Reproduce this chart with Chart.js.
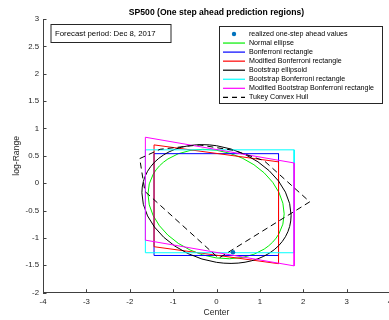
<!DOCTYPE html>
<html>
<head>
<meta charset="utf-8">
<script src="https://cdn.jsdelivr.net/npm/chart.js@4/dist/chart.umd.min.js"></script>
<style>
  html, body { margin: 0; padding: 0; background: #fff; overflow: hidden; }
  #wrap { width: 420px; height: 320px; }
</style>
</head>
<body>
<div id="wrap"><canvas id="regions" width="420" height="320"></canvas></div>
<script>
// axis ticks
const xTicks = [-4, -3, -2, -1, 0, 1, 2, 3, 4];
const yTicks = [-2, -1.5, -1, -0.5, 0, 0.5, 1, 1.5, 2, 2.5, 3];

// realized one-step ahead value (center, log-range)
const realizedCenter = [0.38];
const realizedLogRange = [-1.26];

// rectangles: [low, high] on each axis
const bonferroniCenter = [-1.44, 1.43];
const bonferroniRange = [-1.32, 0.54];
const bootBonferroniCenter = [-1.64, 1.79];
const bootBonferroniRange = [-1.27, 0.61];

// skewed rectangles, corners: top-left, top-right, bottom-right, bottom-left
const modBonferroniCenter = [-1.44, 1.43, 1.43, -1.44];
const modBonferroniRange = [0.70, 0.39, -1.47, -1.16];
const modBootBonferroniCenter = [-1.64, 1.79, 1.79, -1.64];
const modBootBonferroniRange = [0.84, 0.37, -1.51, -1.04];

// Tukey convex hull vertices
const tukeyCenter = [-1.77, -1.3, -0.4, 0.4, 1.1, 2.15, 0.05, -1.65];
const tukeyRange = [0.45, 0.62, 0.70, 0.60, 0.41, -0.34, -1.37, -0.15];

// ellipses: [center x, center y, half width, half height, correlation]
const normalEllipse = [-0.01, -0.38, 1.57, 1.00, -0.18];
const bootEllipsoid = [0.0, -0.38, 1.72, 1.085, -0.19];

function rectPoints(xs, ys) {
  return [
    { x: xs[0], y: ys[1] }, { x: xs[1], y: ys[1] },
    { x: xs[1], y: ys[0] }, { x: xs[0], y: ys[0] },
    { x: xs[0], y: ys[1] }
  ];
}

function polyPoints(xs, ys) {
  const pts = xs.map((x, i) => ({ x, y: ys[i] }));
  pts.push(pts[0]);
  return pts;
}

const AXIS = "#404040";
const FONT = "'Liberation Sans', Arial, Helvetica, sans-serif";
Chart.defaults.font.family = FONT;

function lineSet(label, color, data, extra) {
  return Object.assign({
    label, data,
    showLine: true,
    borderColor: color,
    backgroundColor: color,
    borderWidth: 1,
    pointRadius: 0,
    pointHoverRadius: 0,
    fill: false,
    tension: 0
  }, extra || {});
}

const datasets = [
  {
    label: "realized one-step ahead values",
    data: realizedCenter.map((x, i) => ({ x, y: realizedLogRange[i] })),
    showLine: false,
    pointRadius: 2.3,
    pointBorderWidth: 0,
    backgroundColor: "#0072bd",
    borderColor: "#0072bd",
    marker: true,
    order: -1
  },
  lineSet("Normal ellipse", "#00ee00", [], { ellipse: normalEllipse, order: 7 }),
  lineSet("Bonferroni rectangle", "#0000ff", rectPoints(bonferroniCenter, bonferroniRange), { order: 6 }),
  lineSet("Modified Bonferroni rectangle", "#ff0000", polyPoints(modBonferroniCenter, modBonferroniRange), { order: 5 }),
  lineSet("Bootstrap ellipsoid", "#000000", [], { ellipse: bootEllipsoid, order: 4 }),
  lineSet("Bootstrap Bonferroni rectangle", "#00ffff", rectPoints(bootBonferroniCenter, bootBonferroniRange), { order: 3 }),
  lineSet("Modified Bootstrap Bonferroni rectangle", "#ff00ff", polyPoints(modBootBonferroniCenter, modBootBonferroniRange), { order: 2 }),
  lineSet("Tukey Convex Hull", "#000000", polyPoints(tukeyCenter, tukeyRange), { borderDash: [6, 4], order: 1 })
];

// ellipses drawn as an affine-mapped unit circle, in dataset order
const ellipsePlugin = {
  id: "ellipses",
  afterDatasetDraw(chart, args) {
    const ds = chart.data.datasets[args.index];
    if (!ds.ellipse) return;
    const [cx, cy, ax, by, rho] = ds.ellipse;
    const xs = chart.scales.x, ys = chart.scales.y;
    const ox = xs.getPixelForValue(cx), oy = ys.getPixelForValue(cy);
    const sx = xs.getPixelForValue(cx + ax) - ox;
    const sy = ys.getPixelForValue(cy + by) - oy;
    const ctx = chart.ctx;
    ctx.save();
    ctx.beginPath();
    ctx.save();
    ctx.transform(sx, sy * rho, 0, sy * Math.sqrt(1 - rho * rho), ox, oy);
    ctx.arc(0, 0, 1, 0, Math.PI * 2);
    ctx.restore();
    ctx.strokeStyle = ds.borderColor;
    ctx.lineWidth = ds.borderWidth;
    ctx.stroke();
    ctx.restore();
  }
};

// inward tick marks, title, annotation box and legend
const decorPlugin = {
  id: "decor",
  afterDraw(chart) {
    const ctx = chart.ctx;
    const xs = chart.scales.x, ys = chart.scales.y;
    const area = chart.chartArea;
    ctx.save();
    ctx.strokeStyle = AXIS;
    ctx.lineWidth = 1;
    ctx.beginPath();
    xTicks.forEach(v => {
      const px = Math.round(xs.getPixelForValue(v)) + 0.5;
      ctx.moveTo(px, area.bottom);
      ctx.lineTo(px, area.bottom - 3.5);
    });
    yTicks.forEach(v => {
      const py = Math.round(ys.getPixelForValue(v)) + 0.5;
      ctx.moveTo(area.left, py);
      ctx.lineTo(area.left + 3.5, py);
    });
    ctx.stroke();

    // title
    ctx.fillStyle = "#000";
    ctx.font = "bold 8.6px " + FONT;
    ctx.textAlign = "center";
    ctx.textBaseline = "middle";
    ctx.fillText("SP500 (One step ahead prediction regions)", (area.left + area.right) / 2, 13);

    // forecast period box
    ctx.fillStyle = "#fff";
    ctx.fillRect(51, 24.5, 120, 18);
    ctx.strokeStyle = "#262626";
    ctx.strokeRect(51, 24.5, 120, 18);
    ctx.fillStyle = "#000";
    ctx.font = "7.8px " + FONT;
    ctx.textAlign = "left";
    ctx.fillText("Forecast period: Dec 8, 2017", 55, 33.5);

    // legend
    const lx = 219.5, ly = 26.5, lw = 163, lh = 77;
    ctx.fillStyle = "#fff";
    ctx.fillRect(lx, ly, lw, lh);
    ctx.strokeStyle = "#262626";
    ctx.strokeRect(lx, ly, lw, lh);
    ctx.font = "7.1px " + FONT;
    chart.data.datasets.forEach((ds, i) => {
      const y = 34 + i * 9.05;
      if (ds.marker) {
        ctx.fillStyle = ds.backgroundColor;
        ctx.beginPath();
        ctx.arc(234, y, 2.2, 0, Math.PI * 2);
        ctx.fill();
      } else {
        ctx.strokeStyle = ds.borderColor;
        ctx.lineWidth = 1.2;
        ctx.setLineDash(ds.borderDash ? [5, 4] : []);
        ctx.beginPath();
        ctx.moveTo(223, y);
        ctx.lineTo(245, y);
        ctx.stroke();
        ctx.setLineDash([]);
      }
      ctx.fillStyle = "#000";
      ctx.fillText(ds.label, 249, y);
    });
    ctx.restore();
  }
};

new Chart(document.getElementById("regions"), {
  type: "scatter",
  data: { datasets },
  options: {
    responsive: false,
    animation: false,
    events: [],
    layout: { padding: { left: 0, right: 30, top: 19, bottom: 0 } },
    plugins: { legend: { display: false }, tooltip: { enabled: false } },
    scales: {
      x: {
        type: "linear",
        min: -4, max: 4,
        afterBuildTicks: s => { s.ticks = xTicks.map(value => ({ value })); },
        afterFit: s => { s.height = 27.3; },
        grid: { display: false, drawTicks: false },
        border: { color: AXIS, width: 1 },
        ticks: { color: "#262626", font: { size: 7.8 }, padding: 4, maxRotation: 0, callback: v => String(v) },
        title: { display: true, text: "Center", color: "#262626", font: { size: 8.6 }, padding: { top: 0, bottom: 2 } }
      },
      y: {
        type: "linear",
        min: -2, max: 3,
        afterBuildTicks: s => { s.ticks = yTicks.map(value => ({ value })); },
        afterFit: s => { s.width = 43; },
        grid: { display: false, drawTicks: false },
        border: { color: AXIS, width: 1 },
        ticks: { color: "#262626", font: { size: 7.8 }, padding: 4, callback: v => String(v) },
        title: { display: true, text: "log-Range", color: "#262626", font: { size: 8.6 }, padding: { top: 11, bottom: 0 } }
      }
    }
  },
  plugins: [ellipsePlugin, decorPlugin]
});
</script>
</body>
</html>
